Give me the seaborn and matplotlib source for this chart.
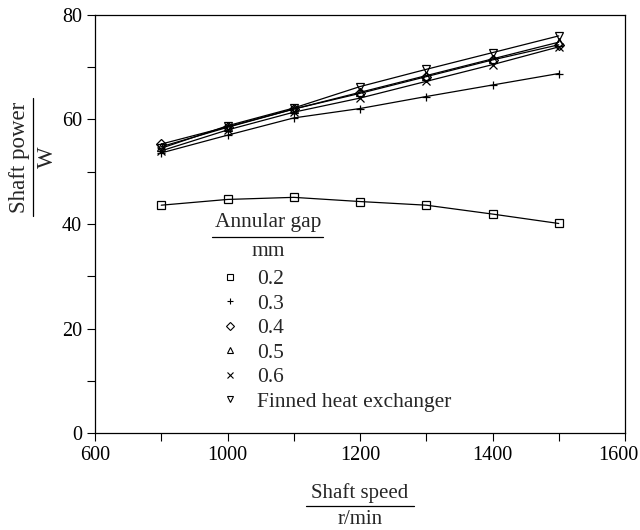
import numpy as np
import pandas as pd
import matplotlib
matplotlib.use("Agg")
import matplotlib.pyplot as plt
import matplotlib.transforms as mtransforms
import seaborn as sns
from matplotlib.lines import Line2D

# shaft speed (r/min) and shaft power (W)
speed = [900, 1000, 1100, 1200, 1300, 1400, 1500]
gap_02 = [43.6, 44.7, 45.1, 44.3, 43.6, 41.9, 40.1]
gap_03 = [53.6, 57.0, 60.3, 62.1, 64.4, 66.6, 68.8]
gap_04 = [55.3, 58.6, 62.0, 65.0, 68.2, 71.4, 74.3]
gap_05 = [54.8, 58.5, 62.0, 65.2, 68.4, 71.6, 74.8]
gap_06 = [54.0, 58.0, 61.4, 64.1, 67.3, 70.5, 73.9]
finned = [54.5, 58.8, 62.2, 66.3, 69.6, 72.8, 76.0]

labels = ["0.2", "0.3", "0.4", "0.5", "0.6", "Finned heat exchanger"]
marker_map = {"0.2": "s", "0.3": "+", "0.4": "D", "0.5": "^", "0.6": "x",
              "Finned heat exchanger": "v"}
x_ticks = [800, 1000, 1200, 1400, 1600]
x_ticklabels = ["600", "1000", "1200", "1400", "1600"]

rows = []
for lab, vals in zip(labels, [gap_02, gap_03, gap_04, gap_05, gap_06, finned]):
    for s, p in zip(speed, vals):
        rows.append([lab, s, p])
df = pd.DataFrame(rows, columns=["gap", "speed", "power"])

sns.set_style("ticks")
plt.rcParams['font.family'] = ['Liberation Serif', 'DejaVu Serif']

fig = plt.figure(figsize=(6.4, 5.3), dpi=100)
ax = fig.add_axes([95 / 640, 1 - 433 / 530, 530 / 640, 418 / 530])

for lab in labels:
    sub = df[df["gap"] == lab]
    sns.lineplot(data=sub, x="speed", y="power", marker=marker_map[lab],
                 color="black", ax=ax, lw=0.9, markersize=5.5,
                 markerfacecolor="none", markeredgecolor="black",
                 markeredgewidth=0.9)

ax.set_xlim(800, 1600)
ax.set_ylim(0, 80)
ax.set_xticks(x_ticks)
ax.set_xticklabels(x_ticklabels)
ax.set_xticks([900, 1100, 1300, 1500], minor=True)
ax.set_yticks([0, 20, 40, 60, 80])
ax.set_yticks([10, 30, 50, 70], minor=True)
ax.tick_params(which="both", direction="out", length=6, width=0.8,
               labelsize=14.5, color="black", labelcolor="black")
ax.set_xlabel("")
ax.set_ylabel("")
for sp in ax.spines.values():
    sp.set_linewidth(0.9)
    sp.set_color("black")

# last x label sits against the right edge, nudge it left a little
last = ax.get_xticklabels()[-1]
last.set_transform(last.get_transform() +
                   mtransforms.ScaledTranslation(-7 / 100, 0, fig.dpi_scale_trans))

# legend
handles = [Line2D([], [], ls="none", marker=marker_map[l], color="black",
                  markerfacecolor="none", markersize=4.5, markeredgewidth=0.8)
           for l in labels]
ax.legend(handles, labels, loc="upper left",
          bbox_to_anchor=(219 / 640, 1 - 269 / 530),
          bbox_transform=fig.transFigure, frameon=False, fontsize=15.5,
          handlelength=1.0, handletextpad=0.75, labelspacing=0.21,
          borderpad=0, borderaxespad=0)
fig.text(268 / 640, 1 - 222 / 530, "Annular gap", ha="center", va="center",
         fontsize=15.5)
fig.add_artist(Line2D([212 / 640, 323 / 640], [1 - 237 / 530, 1 - 237 / 530],
                      color="black", lw=0.9, transform=fig.transFigure))
fig.text(268 / 640, 1 - 252 / 530, "mm", ha="center", va="center", fontsize=15.5)

# axis labels drawn as fractions
fig.text(360 / 640, 1 - 493 / 530, "Shaft speed", ha="center", va="center",
         fontsize=15)
fig.add_artist(Line2D([306 / 640, 414 / 640], [1 - 506 / 530, 1 - 506 / 530],
                      color="black", lw=0.9, transform=fig.transFigure))
fig.text(360 / 640, 1 - 519 / 530, "r/min", ha="center", va="center",
         fontsize=15)

fig.text(20 / 640, 1 - 157 / 530, "Shaft power", ha="center", va="center",
         rotation=90, fontsize=16.5)
fig.add_artist(Line2D([33 / 640, 33 / 640], [1 - 98 / 530, 1 - 216 / 530],
                      color="black", lw=0.9, transform=fig.transFigure))
fig.text(47 / 640, 1 - 157 / 530, "W", ha="center", va="center",
         rotation=90, fontsize=16.5)

fig.savefig("out.png", dpi=100)
